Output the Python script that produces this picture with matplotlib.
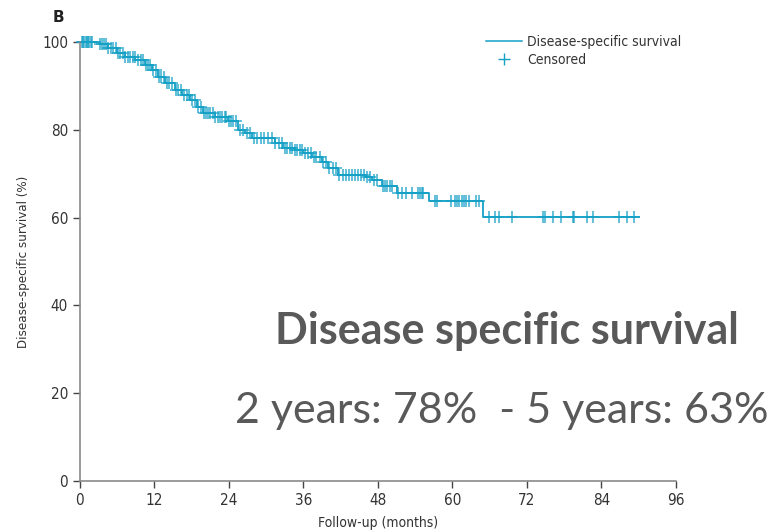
import matplotlib.pyplot as plt
from matplotlib.lines import Line2D
import numpy as np

# Kaplan-Meier step curve (months, % surviving)
zeiten = [0, 3.2, 4.5, 6.0, 7.2, 8.9, 10.5, 11.6, 12.6, 13.7, 15.3, 16.4, 17.7,
          18.8, 19.8, 21.7, 23.8, 25.4, 26.6, 27.7, 31.4, 32.7, 34.6, 36.0,
          37.4, 39.0, 40.0, 41.5, 45.9, 47.0, 48.6, 51.0, 56.2, 64.9, 90.0]
ueberleben = [100, 99.5, 98.6, 97.5, 96.6, 95.9, 94.8, 93.6, 92.0, 90.7, 89.0,
              88.0, 86.8, 85.2, 83.8, 82.9, 82.0, 80.0, 79.3, 78.1, 77.0, 75.9,
              75.4, 74.7, 73.8, 72.7, 71.3, 69.7, 69.2, 68.6, 67.2, 65.6, 63.8,
              60.1, 60.1]

# censored observations (months)
zensiert = [0.3, 0.5, 0.7, 0.9, 1.1, 1.3, 1.5, 1.8, 2.0, 3.3, 3.6, 3.9, 4.2,
            4.6, 5.0, 5.4, 5.8, 6.1, 6.5, 6.9, 7.3, 7.7, 8.1, 8.5, 8.8, 9.3,
            9.8, 10.2, 10.7, 11.0, 11.3, 11.8, 12.2, 12.7, 13.1, 13.5, 14.0,
            14.4, 14.9, 15.4, 15.8, 16.3, 16.8, 17.2, 17.6, 18.1, 18.6, 19.0,
            19.5, 20.0, 20.3, 20.7, 21.0, 21.4, 21.8, 22.2, 22.5, 22.9, 23.3,
            23.6, 24.0, 24.3, 24.7, 25.2, 25.8, 26.3, 26.9, 27.4, 28.0, 28.5,
            29.1, 29.7, 30.3, 30.9, 31.5, 32.0, 32.5, 33.0, 33.4, 33.8, 34.2,
            34.6, 35.0, 35.4, 35.8, 36.3, 36.8, 37.2, 37.7, 38.1, 38.6, 39.1,
            39.6, 40.2, 40.8, 41.3, 41.8, 42.3, 42.8, 43.3, 43.8, 44.3, 44.8,
            45.3, 45.8, 46.3, 46.8, 47.3, 47.8, 48.8, 49.2, 49.5, 49.9, 50.2,
            51.2, 51.9, 52.5, 53.5, 54.4, 54.8, 55.1, 55.2, 57.2, 57.5, 59.7,
            60.4, 60.7, 61.0, 61.5, 61.8, 62.2, 62.6, 63.8, 64.3, 65.9, 66.8,
            67.5, 69.6, 74.6, 74.9, 76.2, 77.5, 79.4, 79.6, 81.7, 82.6, 86.8,
            88.1, 89.2]

x_ticks = [0, 12, 24, 36, 48, 60, 72, 84, 96]
y_ticks = [0, 20, 40, 60, 80, 100]

farbe = "#15a0c6"
grau = "#8a8a8a"
schrift = {"family": "DejaVu Sans", "stretch": "condensed"}

fig = plt.figure(figsize=(7.76, 5.32), dpi=100)
ax = fig.add_axes([0.103, 0.096, 0.768, 0.825])

ax.step(zeiten, ueberleben, where="post", color=farbe, lw=1.3, clip_on=False)
idx = np.searchsorted(zeiten, zensiert, side="right") - 1
ax.plot(zensiert, np.array(ueberleben)[idx], ls="none", marker="+", ms=8,
        mew=1.1, color=farbe, alpha=0.85, clip_on=False)

ax.set_xlim(0, 96)
ax.set_ylim(0, 100)
ax.set_xticks(x_ticks)
ax.set_yticks(y_ticks)
for s in ["top", "right"]:
    ax.spines[s].set_visible(False)
for s in ["left", "bottom"]:
    ax.spines[s].set_color(grau)
    ax.spines[s].set_linewidth(1.2)
ax.tick_params(colors="#333333", length=5, width=1, labelsize=11)
ax.tick_params(axis="both", color="#444444")
for lab in ax.get_xticklabels() + ax.get_yticklabels():
    lab.set_fontstretch("condensed")

ax.set_xlabel("Follow-up (months)", fontsize=10, color="#333333",
              labelpad=6, **schrift)
ax.set_ylabel("Disease-specific survival (%)", fontsize=9.5, color="#333333",
              labelpad=9, **schrift)

handles = [Line2D([], [], color=farbe, lw=1.1),
           Line2D([], [], color=farbe, ls="none", marker="+", ms=8, mew=1)]
leg = ax.legend(handles, ["Disease-specific survival", "Censored"],
                loc="upper left", bbox_to_anchor=(0.66, 1.045), frameon=False,
                handlelength=2.6, handletextpad=0.4, labelspacing=0.3,
                prop={"size": 10, "stretch": "condensed"})
for t in leg.get_texts():
    t.set_color("#333333")

fig.text(0.068, 0.968, "B", fontsize=11, fontweight="bold", color="#222222",
         ha="left", va="center")

fig.text(0.653, 0.378, "Disease specific survival", family="Lato",
         fontweight="bold", fontsize=31, color="#595959", ha="center",
         va="center")
fig.text(0.646, 0.228, "2 years: 78%  - 5 years: 63%", family="Lato",
         fontsize=31, color="#595959", ha="center", va="center")

plt.savefig("out.png", dpi=100)
